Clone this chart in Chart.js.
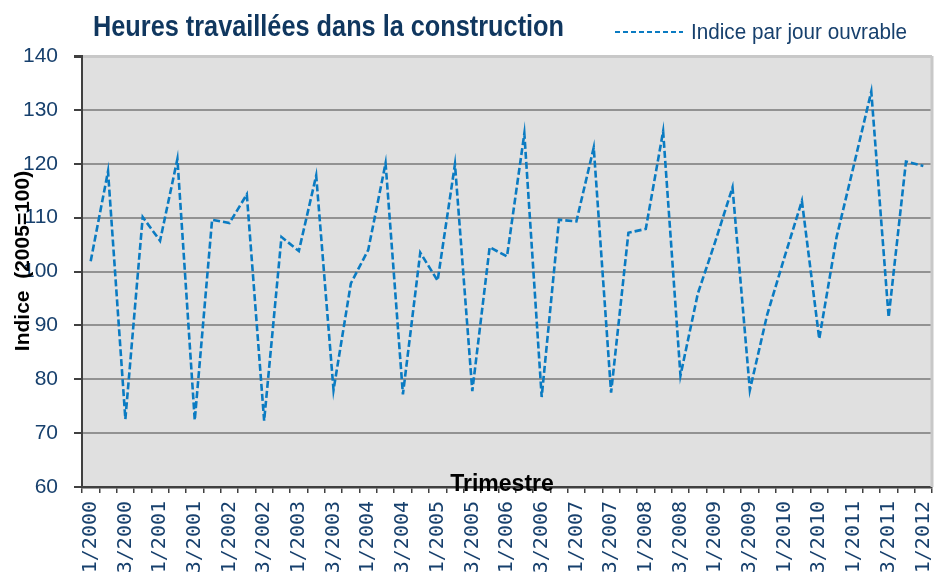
<!DOCTYPE html>
<html>
<head>
<meta charset="utf-8">
<title>Heures travaillées dans la construction</title>
<script src="https://cdn.jsdelivr.net/npm/chart.js@4.4.0/dist/chart.umd.min.js"></script>
<style>
	html, body { margin: 0; padding: 0; background: #fff; }
	#graph { display: block; }
</style>
</head>
<body>
<canvas id="graph" width="936" height="574"></canvas>
<script>
const chartTitle = 'Heures travaillées dans la construction';
const seriesLabel = 'Indice par jour ouvrable';
const yTitle = 'Indice  (2005=100)';
const xTitle = 'Trimestre';

const quarters = [
	'1/2000', '2/2000', '3/2000', '4/2000',
	'1/2001', '2/2001', '3/2001', '4/2001',
	'1/2002', '2/2002', '3/2002', '4/2002',
	'1/2003', '2/2003', '3/2003', '4/2003',
	'1/2004', '2/2004', '3/2004', '4/2004',
	'1/2005', '2/2005', '3/2005', '4/2005',
	'1/2006', '2/2006', '3/2006', '4/2006',
	'1/2007', '2/2007', '3/2007', '4/2007',
	'1/2008', '2/2008', '3/2008', '4/2008',
	'1/2009', '2/2009', '3/2009', '4/2009',
	'1/2010', '2/2010', '3/2010', '4/2010',
	'1/2011', '2/2011', '3/2011', '4/2011',
	'1/2012'
];

const indexValues = [
	101.9, 118.6, 72.6, 110.1,
	105.7, 120.9, 72.4, 109.6,
	109.0, 114.3, 72.3, 106.4,
	103.8, 117.8, 78.0, 97.8,
	104.0, 120.1, 77.2, 103.5,
	98.3, 119.9, 77.8, 104.5,
	102.8, 125.6, 76.7, 109.6,
	109.3, 123.0, 77.5, 107.2,
	107.9, 126.0, 80.7, 95.9,
	105.5, 115.6, 78.0, 92.0,
	102.7, 113.1, 87.5, 106.4,
	119.8, 133.4, 91.5, 120.4,
	119.6
];

const yMin = 60;
const yMax = 140;
const yStep = 10;

const navy = '#17406d';
const lineBlue = '#0a7bc2';

// draws a text squeezed/stretched to a given width
const fitText = function(ctx, text, x, y, width, font, color) {
	ctx.font = font;
	let w = ctx.measureText(text).width;
	ctx.save();
	ctx.translate(x, y);
	ctx.scale(width / w, 1);
	ctx.fillStyle = color;
	ctx.textAlign = 'left';
	ctx.textBaseline = 'alphabetic';
	ctx.fillText(text, 0, 0);
	ctx.restore();
}

const decorations = {
	id: 'decorations',
	beforeDraw(chart) {
		const { ctx, chartArea: a } = chart;
		ctx.save();
		ctx.fillStyle = '#e0e0e0';
		ctx.fillRect(a.left, a.top, a.right - a.left, a.bottom - a.top);
		ctx.restore();
	},
	afterDraw(chart) {
		const { ctx, chartArea: a } = chart;
		ctx.save();
		// right border of plot
		ctx.strokeStyle = '#c8c8c8';
		ctx.lineWidth = 3;
		ctx.beginPath();
		ctx.moveTo(a.right, a.top);
		ctx.lineTo(a.right, a.bottom);
		ctx.stroke();

		// title
		fitText(ctx, chartTitle, 93, 36, 471, 'bold 30px "Liberation Sans Narrow", "Liberation Sans", Arial, sans-serif', '#10375f');

		// legend
		ctx.strokeStyle = lineBlue;
		ctx.lineWidth = 2;
		ctx.setLineDash([5, 3]);
		ctx.beginPath();
		ctx.moveTo(615, 32);
		ctx.lineTo(683, 32);
		ctx.stroke();
		ctx.setLineDash([]);
		fitText(ctx, seriesLabel, 691, 39, 216, '22px "Liberation Sans", Arial, sans-serif', navy);

		// axis titles
		ctx.fillStyle = '#000';
		ctx.font = 'bold 23px "Liberation Sans", Arial, sans-serif';
		ctx.textAlign = 'center';
		ctx.textBaseline = 'middle';
		ctx.fillText(xTitle, 502, 485);

		ctx.translate(23, 261);
		ctx.rotate(-Math.PI / 2);
		ctx.font = 'bold 21px "Liberation Sans", Arial, sans-serif';
		ctx.fillText(yTitle, 0, 0);
		ctx.restore();
	}
};

const config = {
	type: 'line',
	data: {
		labels: quarters,
		datasets: [{
			label: seriesLabel,
			data: indexValues,
			borderColor: lineBlue,
			backgroundColor: lineBlue,
			borderWidth: 2.6,
			borderDash: [7, 3],
			pointRadius: 0,
			tension: 0,
			fill: false,
		}]
	},
	options: {
		responsive: false,
		animation: false,
		layout: {
			padding: { top: 56, right: 4, bottom: 0, left: 0 }
		},
		plugins: {
			legend: { display: false },
			title: { display: false },
			tooltip: { enabled: false },
		},
		scales: {
			x: {
				type: 'category',
				offset: true,
				afterFit(scale) {
					scale.height = 87;
					scale.paddingLeft = 0;
					scale.paddingRight = 0;
				},
				grid: {
					offset: true,
					drawOnChartArea: false,
					drawTicks: true,
					tickLength: 6,
					tickColor: '#404040',
					lineWidth: 1.5,
				},
				border: { display: true, color: '#404040', width: 2.5 },
				ticks: {
					autoSkip: false,
					minRotation: 90,
					maxRotation: 90,
					padding: 8,
					color: navy,
					font: { family: '"DejaVu Sans Mono", monospace', size: 20 },
					callback: function(value, index) {
						return index % 2 === 0 ? this.getLabelForValue(value) : '';
					}
				}
			},
			y: {
				min: yMin,
				max: yMax,
				afterFit(scale) { scale.width = 82; },
				grid: {
					color: ctx => ctx.tick && ctx.tick.value === yMax ? '#c8c8c8' : '#929292',
					lineWidth: ctx => ctx.tick && ctx.tick.value === yMax ? 3 : 2,
					tickLength: 8,
					tickColor: '#404040',
				},
				border: { display: true, color: '#404040', width: 2 },
				ticks: {
					stepSize: yStep,
					padding: 16,
					color: navy,
					font: { family: '"Liberation Sans", Arial, sans-serif', size: 21 },
				}
			}
		}
	},
	plugins: [decorations]
};

new Chart(document.getElementById('graph').getContext('2d'), config);
</script>
</body>
</html>
